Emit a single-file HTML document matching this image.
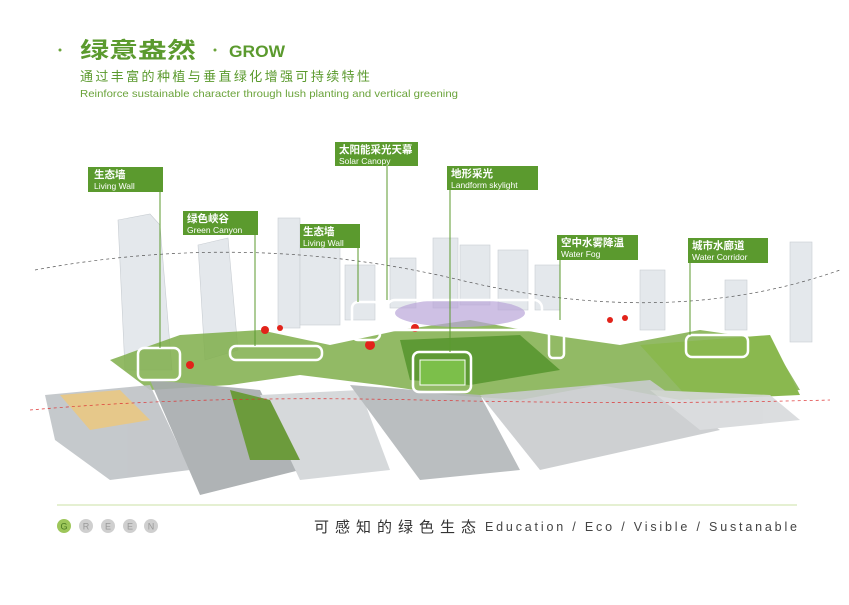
<!DOCTYPE html>
<html><head><meta charset="utf-8"><style>
body{margin:0;width:849px;height:600px;background:#fff;overflow:hidden;font-family:"Liberation Sans","Noto Sans CJK SC",sans-serif}
</style></head><body>
<svg width="849" height="600" viewBox="0 0 849 600" xmlns="http://www.w3.org/2000/svg" font-family="Liberation Sans, Noto Sans CJK SC, sans-serif">
<!-- header -->
<circle cx="60" cy="50" r="1.5" fill="#6aa33a"/>
<text x="80" y="58" font-size="22" font-weight="bold" fill="#5b9a2e" textLength="116" lengthAdjust="spacingAndGlyphs">绿意盎然</text>
<circle cx="215" cy="50" r="1.5" fill="#6aa33a"/>
<text x="229" y="57" font-size="17" font-weight="bold" fill="#5b9a2e" textLength="56" lengthAdjust="spacingAndGlyphs">GROW</text>
<text x="80" y="81" font-size="13" fill="#5b9a2e" textLength="290">通过丰富的种植与垂直绿化增强可持续特性</text>
<text x="80" y="97" font-size="10.5" fill="#6aa33a" textLength="378" lengthAdjust="spacingAndGlyphs">Reinforce sustainable character through lush planting and vertical greening</text>

<!-- buildings -->
<g fill="#e4e8ec" stroke="#c8cdd2" stroke-width="0.6">
<path d="M118 220 L150 214 L160 225 L172 370 L125 370 Z"/>
<path d="M198 245 L228 238 L238 350 L205 360 Z"/>
<rect x="278" y="218" width="22" height="110"/>
<rect x="300" y="245" width="40" height="80"/>
<rect x="345" y="265" width="30" height="55"/>
<rect x="390" y="258" width="26" height="50"/>
<rect x="433" y="238" width="25" height="70"/>
<rect x="460" y="245" width="30" height="60"/>
<rect x="498" y="250" width="30" height="60"/>
<rect x="535" y="265" width="25" height="45"/>
<rect x="640" y="270" width="25" height="60"/>
<rect x="725" y="280" width="22" height="50"/>
<rect x="790" y="242" width="22" height="100"/>
</g>
<!-- ground green -->
<path d="M110 360 L180 335 L260 330 L330 345 L400 330 L470 320 L550 335 L620 345 L700 330 L770 340 L800 390 L680 400 L600 385 L520 400 L450 395 L380 385 L300 375 L230 385 L150 390 Z" fill="#7fae4a" opacity="0.85"/>
<path d="M400 340 L520 335 L560 370 L470 385 L410 380 Z" fill="#5e9a35"/>
<path d="M640 345 L770 335 L800 395 L690 400 Z" fill="#8ab84f"/>
<rect x="420" y="360" width="45" height="25" fill="#7cbf4a" stroke="#fff"/>
<!-- grey platforms -->
<g fill="#bfc3c6" opacity="0.9">
<path d="M45 395 L150 385 L190 470 L110 480 L55 440 Z"/>
<path d="M150 380 L260 390 L300 470 L200 495 Z" fill="#a7abae"/>
<path d="M260 395 L360 390 L390 470 L300 480 Z" fill="#d2d5d8"/>
<path d="M350 385 L480 395 L520 470 L420 480 Z" fill="#b3b7ba"/>
<path d="M480 395 L650 380 L720 430 L540 470 Z" fill="#c9ccce"/>
<path d="M650 390 L770 395 L800 420 L700 430 Z" fill="#d7d9db"/>
</g>
<path d="M60 395 L120 390 L150 420 L90 430 Z" fill="#e6c88a"/>
<path d="M230 390 L270 400 L300 460 L250 460 Z" fill="#6c9b3c"/>
<!-- red flowers -->
<g fill="#e2231a"><circle cx="265" cy="330" r="4"/><circle cx="280" cy="328" r="3"/><circle cx="415" cy="328" r="4"/><circle cx="610" cy="320" r="3"/><circle cx="625" cy="318" r="3"/><circle cx="370" cy="345" r="5"/><circle cx="190" cy="365" r="4"/></g>
<!-- canopy -->
<ellipse cx="460" cy="313" rx="65" ry="14" fill="#b9a5d8" opacity="0.7"/>
<!-- highlight boxes -->
<g fill="none" stroke="#fff" stroke-width="2.5">
<rect x="138" y="348" width="42" height="32" rx="6"/>
<rect x="230" y="346" width="92" height="14" rx="6"/>
<rect x="352" y="302" width="28" height="38" rx="6"/>
<rect x="387" y="300" width="155" height="30" rx="8"/>
<rect x="413" y="352" width="58" height="40" rx="6"/>
<rect x="549" y="320" width="15" height="38" rx="4"/>
<rect x="686" y="335" width="62" height="22" rx="6"/>
</g>
<!-- dashed arcs -->
<path d="M35 270 Q250 230 460 280 T840 270" fill="none" stroke="#555" stroke-width="0.7" stroke-dasharray="3 3"/>
<path d="M30 410 Q200 395 420 400 T830 400" fill="none" stroke="#d33" stroke-width="0.7" stroke-dasharray="3 3"/>
<!-- leader lines -->
<g stroke="#5b9a2e" stroke-width="1">
<line x1="160" y1="192" x2="160" y2="348"/>
<line x1="255" y1="235" x2="255" y2="346"/>
<line x1="358" y1="248" x2="358" y2="302"/>
<line x1="387" y1="166" x2="387" y2="300"/>
<line x1="450" y1="190" x2="450" y2="352"/>
<line x1="560" y1="260" x2="560" y2="320"/>
<line x1="690" y1="263" x2="690" y2="335"/>
</g>
<!-- labels -->
<g font-size="8.5" fill="#fff">
<rect x="88" y="167" width="75" height="25" fill="#5b9a2e"/><text x="94" y="178" font-size="10.5" font-weight="bold">生态墙</text><text x="94" y="189">Living Wall</text>
<rect x="183" y="211" width="75" height="24" fill="#5b9a2e"/><text x="187" y="222" font-size="10.5" font-weight="bold">绿色峡谷</text><text x="187" y="233">Green Canyon</text>
<rect x="300" y="224" width="60" height="24" fill="#5b9a2e"/><text x="303" y="235" font-size="10.5" font-weight="bold">生态墙</text><text x="303" y="246">Living Wall</text>
<rect x="335" y="142" width="83" height="24" fill="#5b9a2e"/><text x="339" y="153" font-size="10.5" font-weight="bold">太阳能采光天幕</text><text x="339" y="164">Solar Canopy</text>
<rect x="447" y="166" width="91" height="24" fill="#5b9a2e"/><text x="451" y="177" font-size="10.5" font-weight="bold">地形采光</text><text x="451" y="188">Landform skylight</text>
<rect x="557" y="235" width="81" height="25" fill="#5b9a2e"/><text x="561" y="246" font-size="10.5" font-weight="bold">空中水雾降温</text><text x="561" y="257">Water Fog</text>
<rect x="688" y="238" width="80" height="25" fill="#5b9a2e"/><text x="692" y="249" font-size="10.5" font-weight="bold">城市水廊道</text><text x="692" y="260">Water Corridor</text>
</g>
<!-- footer -->
<line x1="57" y1="505" x2="797" y2="505" stroke="#d5e6b8" stroke-width="1.2"/>
<g font-size="9" text-anchor="middle" fill="#fff">
<circle cx="64" cy="526" r="7" fill="#9dc65a"/><text x="64" y="529.5" fill="#4a7a22">G</text>
<circle cx="86" cy="526" r="7" fill="#cfcfcf"/><text x="86" y="529.5" fill="#999">R</text>
<circle cx="108" cy="526" r="7" fill="#cfcfcf"/><text x="108" y="529.5" fill="#999">E</text>
<circle cx="130" cy="526" r="7" fill="#cfcfcf"/><text x="130" y="529.5" fill="#999">E</text>
<circle cx="151" cy="526" r="7" fill="#cfcfcf"/><text x="151" y="529.5" fill="#999">N</text>
</g>
<text x="314" y="532" font-size="15" fill="#333" textLength="162">可感知的绿色生态</text>
<text x="485" y="531" font-size="12.5" fill="#444" textLength="312">Education / Eco / Visible / Sustanable</text>
</svg>
</body></html>
